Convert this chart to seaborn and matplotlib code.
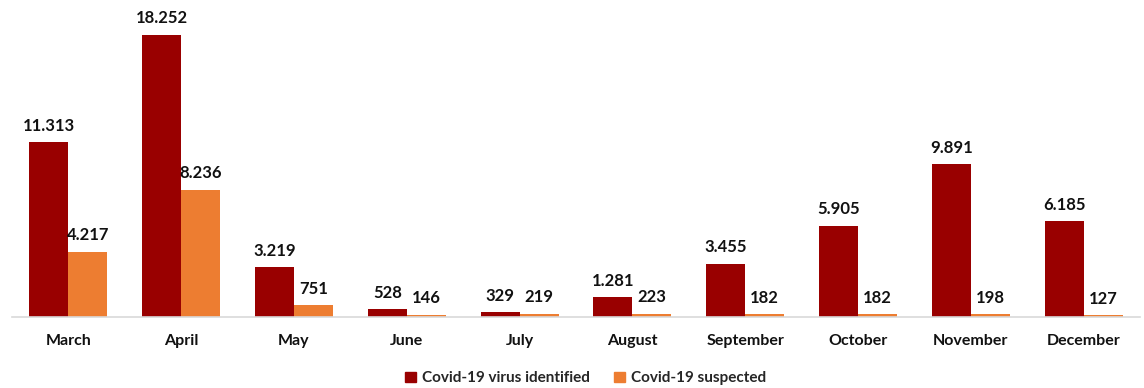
import matplotlib
matplotlib.use("Agg")
import matplotlib.pyplot as plt
import seaborn as sns
import pandas as pd

months = ["March", "April", "May", "June", "July", "August",
          "September", "October", "November", "December"]
identified = [11313, 18252, 3219, 528, 329, 1281, 3455, 5905, 9891, 6185]
suspected = [4217, 8236, 751, 146, 219, 223, 182, 182, 198, 127]
series_names = ["Covid-19 virus identified", "Covid-19 suspected"]
series_colors = ["#990000", "#ED7D31"]

df = pd.DataFrame({
    "month": months * 2,
    "count": identified + suspected,
    "series": [series_names[0]] * len(months) + [series_names[1]] * len(months),
})

sns.set_style("white")
plt.rcParams["font.family"] = ["Lato", "DejaVu Sans"]
plt.rcParams["font.weight"] = "bold"

fig = plt.figure(figsize=(11.44, 3.88), dpi=100)
ax = fig.add_axes([12 / 1144, 71 / 388, 1128 / 1144, 317 / 388])

sns.barplot(data=df, x="month", y="count", hue="series", order=months,
            hue_order=series_names, palette=series_colors, width=0.69,
            linewidth=0, saturation=1, ax=ax, legend=False)

for container, values in zip(ax.containers, [identified, suspected]):
    labels = [f"{v:,}".replace(",", ".") for v in values]
    ax.bar_label(container, labels=labels, padding=6, fontsize=12,
                 fontweight="bold", color="#111111")

ax.set_ylim(0, 20500)
ax.set_xlim(-0.5, len(months) - 0.5)
ax.set_xlabel("")
ax.set_ylabel("")
ax.set_yticks([])
ax.tick_params(axis="x", length=0, pad=12, labelsize=11.5, colors="#111111")
for lbl in ax.get_xticklabels():
    lbl.set_fontweight("bold")
for side in ["top", "left", "right"]:
    ax.spines[side].set_visible(False)
ax.spines["bottom"].set_color("#D9D9D9")
ax.spines["bottom"].set_linewidth(1.2)

handles = [plt.Rectangle((0, 0), 1, 1, color=c) for c in series_colors]
fig.legend(handles, series_names, loc="center", bbox_to_anchor=(0.512, 0.025),
           ncol=2, frameon=False, handlelength=0.7, handleheight=0.7,
           handletextpad=0.4, columnspacing=1.6,
           prop={"size": 11, "weight": "bold"})

fig.savefig("out.png", dpi=100)
